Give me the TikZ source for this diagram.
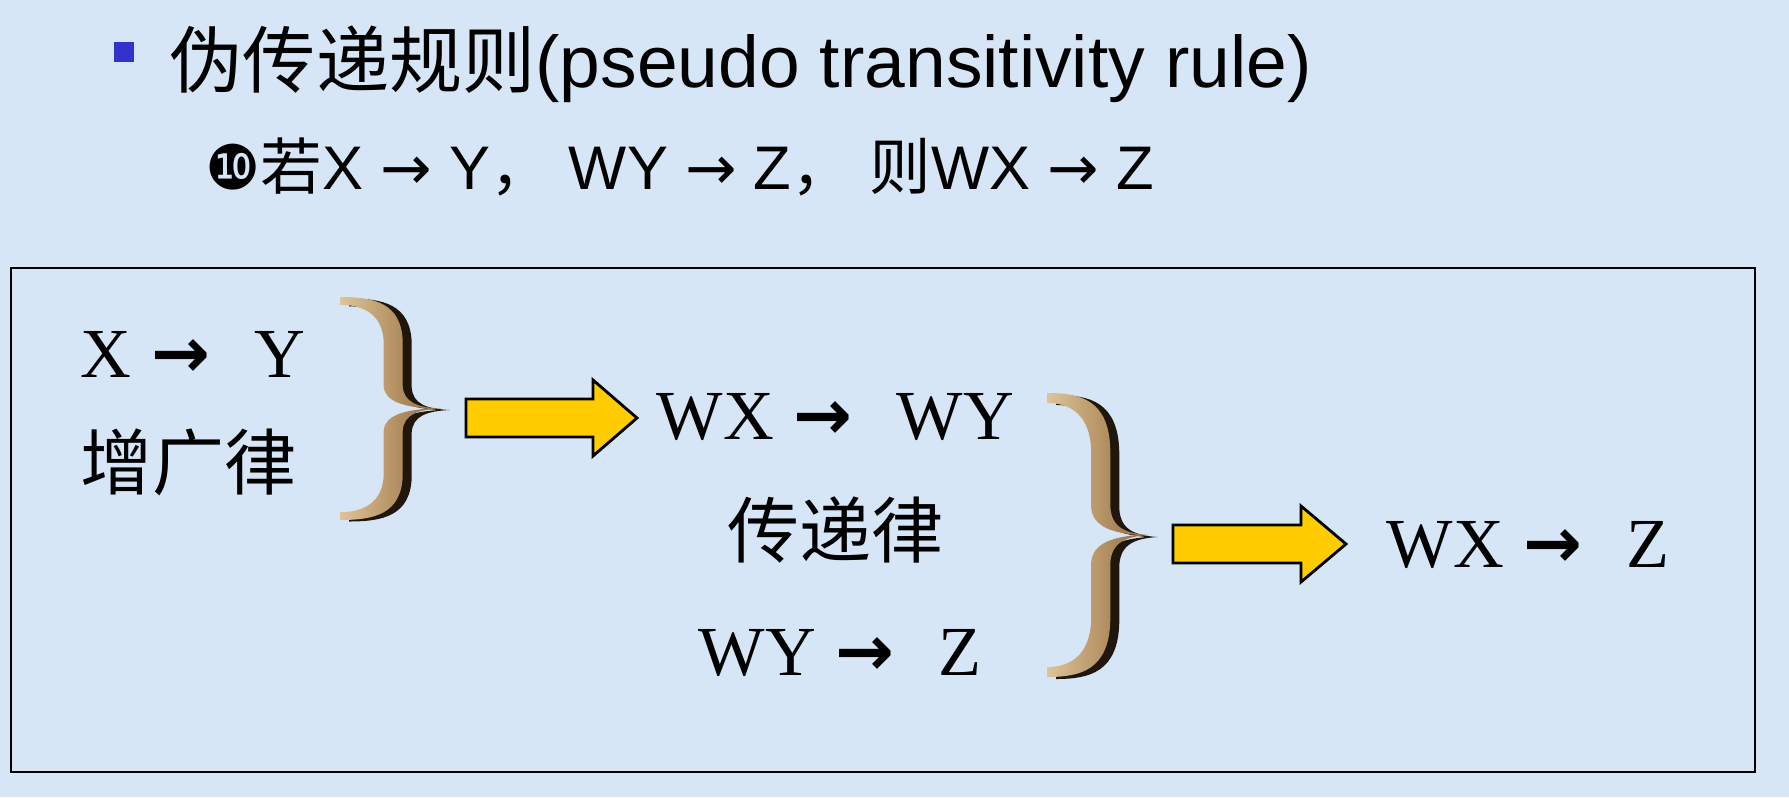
\documentclass[tikz,border=0pt]{standalone}
\usepackage{fontspec}
\setmainfont{Liberation Serif}
\newfontfamily\arialf{Liberation Sans}
\newfontfamily\cjkf{Noto Sans CJK SC}
\newfontfamily\djf{DejaVu Sans}
\definecolor{bgblue}{RGB}{214,230,246}
\definecolor{bulletblue}{RGB}{51,51,204}
\definecolor{arrowyellow}{RGB}{255,204,0}
\definecolor{goldlight}{RGB}{222,196,152}
\definecolor{goldmid}{RGB}{184,150,104}
\definecolor{golddark}{RGB}{140,106,64}
\definecolor{braceshadow}{RGB}{32,22,12}
\newcommand\bracepath{(0,1) .. controls (0.3,1.0) and (0.55,0.95) .. (0.56,0.6) -- (0.56,0.2) .. controls (0.57,0.05) and (0.7,0.01) .. (0.9,0) .. controls (0.7,-0.01) and (0.57,-0.05) .. (0.56,-0.2) -- (0.56,-0.6) .. controls (0.55,-0.95) and (0.3,-1) .. (0,-1) -- (0,-0.93) .. controls (0.2,-0.93) and (0.38,-0.85) .. (0.39,-0.6) -- (0.39,-0.2) .. controls (0.4,-0.05) and (0.6,-0.015) .. (0.8,0) .. controls (0.6,0.015) and (0.4,0.05) .. (0.39,0.2) -- (0.39,0.6) .. controls (0.38,0.85) and (0.2,0.93) .. (0,0.93) -- cycle}
\newcommand\imp{\hspace{0.2cm}{\djf\bfseries →}\hspace{0.44cm}}
\newcommand\thin{{\djf →}}
\tikzset{
  titletext/.style={anchor=base west, inner sep=0pt, font=\fontsize{20.8pt}{24pt}\selectfont},
  ruletext/.style={anchor=base west, inner sep=0pt, font=\fontsize{17.5pt}{20pt}\selectfont\arialf},
  formula/.style={anchor=base west, inner sep=0pt, font=\fontsize{20pt}{24pt}\selectfont},
  lawtext/.style={anchor=west, inner sep=0pt, font=\fontsize{20.5pt}{24pt}\selectfont\cjkf},
  blockarrow/.style={fill=arrowyellow, draw=black, line width=0.8pt, line join=miter},
  bracegold/.style={left color=goldlight, right color=golddark, middle color=goldmid},
  braceshade/.style={fill=braceshadow},
}
\begin{document}
\begin{tikzpicture}[x=0.01cm, y=-0.01cm]
\fill[bgblue] (0,0) rectangle (1789,797);
\useasboundingbox (0,0) rectangle (1789,797);
% bullet and title
\node[fill=bulletblue, inner sep=0pt, minimum size=0.2cm] (bullet) at (124,52) {};
\node[titletext] (title) at (169,87) {{\cjkf 伪传递规则}{\arialf (pseudo transitivity rule)}};
\node[ruletext] (rule) at (205,189) {{\djf ❿}{\cjkf 若}X \thin\ Y{\cjkf ，} WY \thin\ Z{\cjkf ，} {\cjkf 则}WX \thin\ Z};
% frame
\draw[black, line width=0.6pt] (11,268) rectangle (1755,772);
% left group
\node[formula] (xy) at (80,377) {X\imp Y};
\node[lawtext] (aug) at (80,462) {增广律};
\begin{scope}[shift={(349,410)}, xscale=112, yscale=-111.5]
  \fill[braceshade] \bracepath;
\end{scope}
\begin{scope}[shift={(340,408.5)}, xscale=112, yscale=-111.5]
  \shade[bracegold] \bracepath;
\end{scope}
\coordinate (b1tip) at (451,409);
% middle group
\node[formula] (wxwy) at (656,439) {WX\imp WY};
\node[lawtext] (trans) at (727,530) {传递律};
\node[formula] (wyz) at (698,675) {WY\imp Z};
\begin{scope}[shift={(1056,537)}, xscale=113, yscale=-142]
  \fill[braceshade] \bracepath;
\end{scope}
\begin{scope}[shift={(1047,535)}, xscale=113, yscale=-142]
  \shade[bracegold] \bracepath;
\end{scope}
\coordinate (b2tip) at (1162,535);
% right result
\node[formula] (wxz) at (1386,567) {WX\imp Z};
% block arrows
\coordinate (a1s) at (466,418);
\coordinate (a1e) at (637,418);
\draw[blockarrow] ([yshift=-0.19cm]a1s) -- ([xshift=-0.44cm,yshift=-0.19cm]a1e) -- ([xshift=-0.44cm,yshift=-0.38cm]a1e) -- (a1e) -- ([xshift=-0.44cm,yshift=0.38cm]a1e) -- ([xshift=-0.44cm,yshift=0.19cm]a1e) -- ([yshift=0.19cm]a1s) -- cycle;
\coordinate (a2s) at (1173,544);
\coordinate (a2e) at (1346,544);
\draw[blockarrow] ([yshift=-0.19cm]a2s) -- ([xshift=-0.45cm,yshift=-0.19cm]a2e) -- ([xshift=-0.45cm,yshift=-0.38cm]a2e) -- (a2e) -- ([xshift=-0.45cm,yshift=0.38cm]a2e) -- ([xshift=-0.45cm,yshift=0.19cm]a2e) -- ([yshift=0.19cm]a2s) -- cycle;
\end{tikzpicture}
\end{document}
